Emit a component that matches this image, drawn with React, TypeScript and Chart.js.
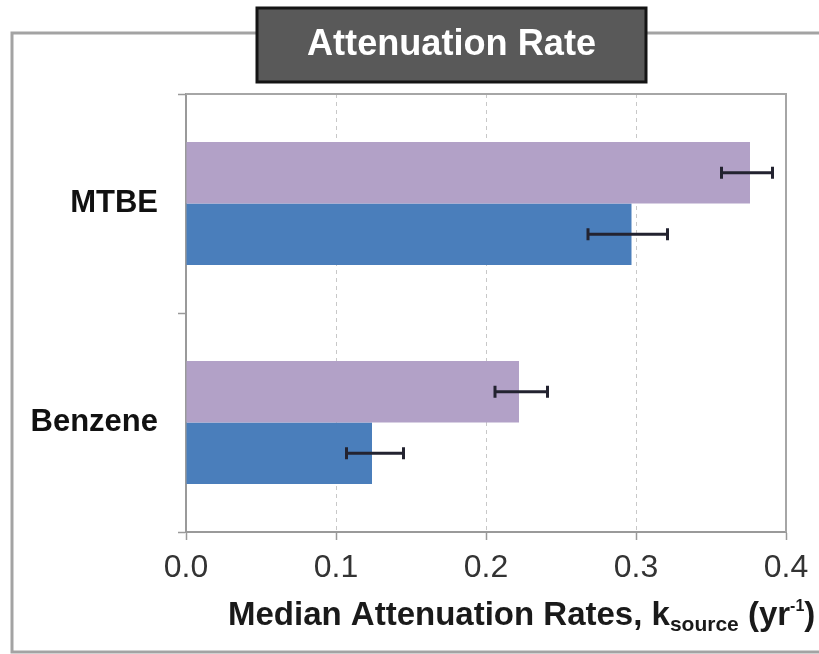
import React, { useEffect, useRef } from 'react';
import { Chart, registerables } from 'chart.js';

Chart.register(...registerables);

const categories = ['MTBE', 'Benzene'];
const seriesPurple = [0.376, 0.222];
const seriesBlue = [0.297, 0.124];
const purpleErrLow = [0.357, 0.206];
const purpleErrHigh = [0.391, 0.241];
const blueErrLow = [0.268, 0.107];
const blueErrHigh = [0.321, 0.145];
const xTickValues = [0, 0.1, 0.2, 0.3, 0.4];
const chartTitle = 'Attenuation Rate';
const axisTitleMain = 'Median Attenuation Rates, k';
const axisTitleSub = 'source';
const axisTitleTail = ' (yr';
const axisTitleSup = '-1';
const axisTitleEnd = ')';

const FONT = '"Liberation Sans", Arial, Helvetica, sans-serif';
const PURPLE = '#b2a1c7';
const BLUE = '#4a7ebb';

const errLows = [purpleErrLow, blueErrLow];
const errHighs = [purpleErrHigh, blueErrHigh];

const outerFramePlugin = {
  id: 'outerFrame',
  beforeDraw(chart: any) {
    const { ctx, width } = chart;
    ctx.save();
    ctx.strokeStyle = '#a3a3a3';
    ctx.lineWidth = 3;
    ctx.beginPath();
    ctx.moveTo(width + 5, 33);
    ctx.lineTo(12, 33);
    ctx.lineTo(12, 652);
    ctx.lineTo(width + 5, 652);
    ctx.stroke();
    ctx.restore();
  },
};

const plotFramePlugin = {
  id: 'plotFrame',
  afterDraw(chart: any) {
    const { ctx, chartArea } = chart;
    ctx.save();
    ctx.strokeStyle = '#a6a6a6';
    ctx.lineWidth = 2;
    ctx.beginPath();
    ctx.moveTo(chartArea.left, chartArea.top);
    ctx.lineTo(chartArea.right, chartArea.top);
    ctx.lineTo(chartArea.right, chartArea.bottom);
    ctx.stroke();
    ctx.restore();
  },
};

const errorBarPlugin = {
  id: 'errorBars',
  afterDatasetsDraw(chart: any) {
    const { ctx } = chart;
    const xScale = chart.scales.x;
    ctx.save();
    ctx.strokeStyle = '#232330';
    ctx.lineWidth = 3;
    chart.data.datasets.forEach((_: any, di: number) => {
      const meta = chart.getDatasetMeta(di);
      meta.data.forEach((bar: any, i: number) => {
        const y = bar.y;
        const x1 = xScale.getPixelForValue(errLows[di][i]);
        const x2 = xScale.getPixelForValue(errHighs[di][i]);
        ctx.beginPath();
        ctx.moveTo(x1, y);
        ctx.lineTo(x2, y);
        ctx.moveTo(x1, y - 6);
        ctx.lineTo(x1, y + 6);
        ctx.moveTo(x2, y - 6);
        ctx.lineTo(x2, y + 6);
        ctx.stroke();
      });
    });
    ctx.restore();
  },
};

const titleBoxPlugin = {
  id: 'titleBox',
  afterDraw(chart: any) {
    const { ctx } = chart;
    const bx = 257, by = 8, bw = 389, bh = 74;
    ctx.save();
    ctx.fillStyle = '#595959';
    ctx.fillRect(bx, by, bw, bh);
    ctx.strokeStyle = '#141414';
    ctx.lineWidth = 3;
    ctx.strokeRect(bx, by, bw, bh);
    ctx.fillStyle = '#ffffff';
    ctx.font = `bold 36px ${FONT}`;
    ctx.textAlign = 'center';
    ctx.textBaseline = 'middle';
    const w = ctx.measureText(chartTitle).width;
    const target = 289;
    ctx.translate(bx + bw / 2, by + bh / 2);
    ctx.scale(Math.min(1.05, target / w), 1);
    ctx.fillText(chartTitle, 0, 0);
    ctx.restore();
  },
};

const axisTitlePlugin = {
  id: 'axisTitle',
  afterDraw(chart: any) {
    const { ctx, chartArea } = chart;
    const base = 625;
    let x = chartArea.left + 42;
    ctx.save();
    ctx.fillStyle = '#1a1a1a';
    ctx.textAlign = 'left';
    ctx.textBaseline = 'alphabetic';
    ctx.font = `bold 33px ${FONT}`;
    ctx.fillText(axisTitleMain, x, base);
    x += ctx.measureText(axisTitleMain).width;
    ctx.font = `bold 21px ${FONT}`;
    ctx.fillText(axisTitleSub, x, base + 6);
    x += ctx.measureText(axisTitleSub).width;
    ctx.font = `bold 33px ${FONT}`;
    ctx.fillText(axisTitleTail, x, base);
    x += ctx.measureText(axisTitleTail).width;
    ctx.font = `bold 16px ${FONT}`;
    ctx.fillText(axisTitleSup, x, base - 14);
    x += ctx.measureText(axisTitleSup).width;
    ctx.font = `bold 33px ${FONT}`;
    ctx.fillText(axisTitleEnd, x, base);
    ctx.restore();
  },
};

export default function App() {
  const ref = useRef<HTMLCanvasElement>(null);

  useEffect(() => {
    if (!ref.current) return;
    const chart = new Chart(ref.current, {
      type: 'bar',
      data: {
        labels: categories,
        datasets: [
          {
            label: 'Series A',
            data: seriesPurple,
            backgroundColor: PURPLE,
            borderWidth: 0,
            barPercentage: 1,
            categoryPercentage: 0.562,
          },
          {
            label: 'Series B',
            data: seriesBlue,
            backgroundColor: BLUE,
            borderWidth: 0,
            barPercentage: 1,
            categoryPercentage: 0.562,
          },
        ],
      },
      options: {
        indexAxis: 'y',
        responsive: false,
        animation: false,
        layout: { padding: { left: 0, top: 94, right: 33, bottom: 0 } },
        plugins: {
          legend: { display: false },
          tooltip: { enabled: false },
          title: { display: false },
        },
        scales: {
          x: {
            type: 'linear',
            min: 0,
            max: 0.4,
            afterBuildTicks: (scale: any) => {
              scale.ticks = xTickValues.map((v) => ({ value: v }));
            },
            afterFit: (scale: any) => {
              scale.height = 122;
            },
            ticks: {
              callback: (v: any) => Number(v).toFixed(1),
              font: { family: FONT, size: 32 },
              color: '#333333',
              padding: 9,
              maxRotation: 0,
            },
            grid: {
              color: (c: any) =>
                c.index === 0 || c.index === xTickValues.length - 1 ? 'rgba(0,0,0,0)' : '#c8c8c8',
              lineWidth: 1,
              tickColor: '#9a9a9a',
              tickLength: 8,
              tickWidth: 1.5,
            },
            border: { display: true, color: '#9a9a9a', width: 2, dash: [4, 4] },
          },
          y: {
            type: 'category',
            offset: true,
            afterFit: (scale: any) => {
              scale.width = 186;
            },
            ticks: {
              font: { family: FONT, size: 31, weight: 'bold' },
              color: '#111111',
              padding: 20,
            },
            grid: {
              offset: true,
              drawOnChartArea: false,
              drawTicks: true,
              tickLength: 8,
              color: '#9a9a9a',
              tickColor: '#9a9a9a',
              tickWidth: 1.5,
            },
            border: { display: true, color: '#9a9a9a', width: 2 },
          },
        },
      },
      plugins: [outerFramePlugin, plotFramePlugin, errorBarPlugin, titleBoxPlugin, axisTitlePlugin],
    } as any);
    return () => chart.destroy();
  }, []);

  return (
    <div
      style={{
        position: 'fixed',
        left: 0,
        top: 0,
        width: 819,
        height: 654,
        background: '#ffffff',
        overflow: 'hidden',
      }}
    >
      <canvas ref={ref} width={819} height={654} style={{ display: 'block', width: 819, height: 654 }} />
    </div>
  );
}
